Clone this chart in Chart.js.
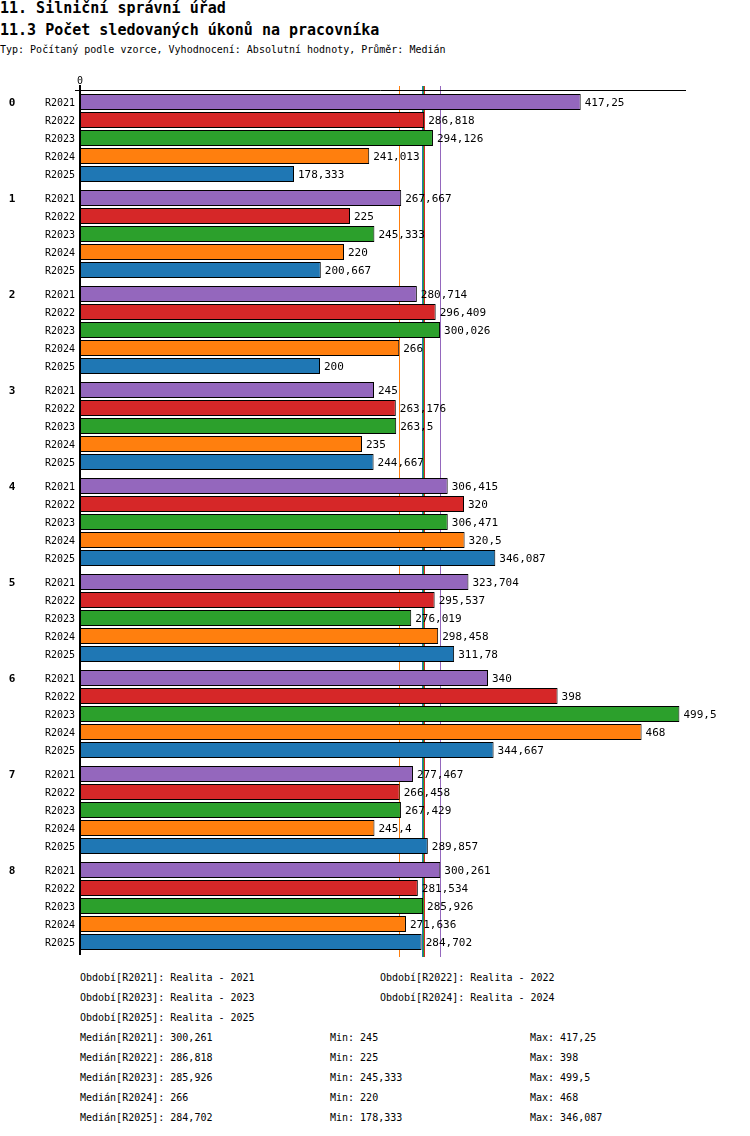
<!DOCTYPE html>
<html>
<head>
<meta charset="utf-8">
<script src="https://cdn.jsdelivr.net/npm/chart.js@4/dist/chart.umd.min.js"></script>
<style>
  html, body { margin: 0; padding: 0; background: #fff; }
  body { width: 750px; height: 1136px; position: relative; overflow: hidden; font-family: "DejaVu Sans Mono", monospace; color: #000; }
  .t { position: absolute; white-space: pre; line-height: 1; }
  .h { font-weight: bold; font-size: 15px; }
  .s { font-size: 10px; }
  .f { font-size: 10px; transform: translateY(-50%); }
  #c { position: absolute; left: 0; top: 0; }
</style>
</head>
<body>
<div class="t h" style="left:0;top:1px;">11. Silniční správní úřad</div>
<div class="t h" style="left:0;top:23px;">11.3 Počet sledovaných úkonů na pracovníka</div>
<div class="t s" style="left:0;top:45px;">Typ: Počítaný podle vzorce, Vyhodnocení: Absolutní hodnoty, Průměr: Medián</div>
<canvas id="c" width="750" height="960"></canvas>
<div id="foot"></div>
<script>
const categories = ['0', '1', '2', '3', '4', '5', '6', '7', '8'];
const seriesNames = ['R2021', 'R2022', 'R2023', 'R2024', 'R2025'];
const seriesLabels = ['Realita - 2021', 'Realita - 2022', 'Realita - 2023', 'Realita - 2024', 'Realita - 2025'];
const seriesColors = ['#9467bd', '#d62728', '#2ca02c', '#ff7f0e', '#1f77b4'];
const r2021 = [417.25, 267.667, 280.714, 245, 306.415, 323.704, 340, 277.467, 300.261];
const r2022 = [286.818, 225, 296.409, 263.176, 320, 295.537, 398, 266.458, 281.534];
const r2023 = [294.126, 245.333, 300.026, 263.5, 306.471, 276.019, 499.5, 267.429, 285.926];
const r2024 = [241.013, 220, 266, 235, 320.5, 298.458, 468, 245.4, 271.636];
const r2025 = [178.333, 200.667, 200, 244.667, 346.087, 311.78, 344.667, 289.857, 284.702];
const medians = [300.261, 286.818, 285.926, 266, 284.702];
const mins = [245, 225, 245.333, 220, 178.333];
const maxs = [417.25, 398, 499.5, 468, 346.087];
const xMin = 0;
const xMax = 505;

const seriesValues = [r2021, r2022, r2023, r2024, r2025];
const fmt = v => String(v).replace('.', ',');

// footer
const foot = document.getElementById('foot');
function addText(txt, x, y) {
  const d = document.createElement('div');
  d.className = 't f';
  d.style.left = x + 'px';
  d.style.top = y + 'px';
  d.textContent = txt;
  foot.appendChild(d);
}
seriesNames.forEach((n, i) => {
  const col = i % 2, row = Math.floor(i / 2);
  addText('Období[' + n + ']: ' + seriesLabels[i], col ? 380 : 80, 978 + row * 20);
});
seriesNames.forEach((n, i) => {
  const y = 1038 + i * 20;
  addText('Medián[' + n + ']: ' + fmt(medians[i]), 80, y);
  addText('Min: ' + fmt(mins[i]), 330, y);
  addText('Max: ' + fmt(maxs[i]), 530, y);
});

const overlay = {
  id: 'overlay',
  beforeDatasetsDraw(chart) {
    const ctx = chart.ctx, a = chart.chartArea, xs = chart.scales.x;
    ctx.save();
    ctx.lineWidth = 1;
    medians.forEach((m, i) => {
      const x = Math.round(xs.getPixelForValue(m)) + 0.5;
      ctx.strokeStyle = seriesColors[i];
      ctx.beginPath();
      ctx.moveTo(x, a.top - 4);
      ctx.lineTo(x, a.bottom + 3);
      ctx.stroke();
    });
    ctx.restore();
  },
  afterDatasetsDraw(chart) {
    const ctx = chart.ctx, a = chart.chartArea, xs = chart.scales.x;
    ctx.save();
    ctx.fillStyle = '#000';
    ctx.textBaseline = 'middle';
    // value labels and series labels
    chart.data.datasets.forEach((ds, di) => {
      const meta = chart.getDatasetMeta(di);
      meta.data.forEach((el, i) => {
        ctx.font = '11px "DejaVu Sans Mono", monospace';
        ctx.textAlign = 'left';
        ctx.fillText(fmt(ds.data[i]), el.x + 4, el.y + 1);
        ctx.font = '10px "DejaVu Sans Mono", monospace';
        ctx.textAlign = 'right';
        ctx.fillText(seriesNames[di], a.left - 5, el.y + 1);
        if (di === 0) {
          ctx.font = 'bold 11px "DejaVu Sans Mono", monospace';
          ctx.textAlign = 'center';
          ctx.fillText(categories[i], 12, el.y + 1);
        }
      });
    });
    // axes
    const x0 = xs.getPixelForValue(xMin);
    ctx.strokeStyle = '#000';
    ctx.lineWidth = 1;
    ctx.beginPath();
    ctx.moveTo(x0 - 5, a.top + 0.5);
    ctx.lineTo(xs.getPixelForValue(xMax), a.top + 0.5);
    ctx.stroke();
    ctx.lineWidth = 2;
    ctx.beginPath();
    ctx.moveTo(x0, a.top - 5);
    ctx.lineTo(x0, a.bottom + 1);
    ctx.stroke();
    ctx.font = '10px "DejaVu Sans Mono", monospace';
    ctx.textAlign = 'center';
    ctx.textBaseline = 'bottom';
    ctx.fillText(String(xMin), x0, a.top - 4);
    ctx.restore();
  }
};

new Chart(document.getElementById('c'), {
  type: 'bar',
  data: {
    labels: categories,
    datasets: seriesNames.map((n, i) => ({
      label: n,
      data: seriesValues[i],
      backgroundColor: seriesColors[i],
      borderColor: '#000',
      borderWidth: 1,
      borderSkipped: false,
      categoryPercentage: 0.9375,
      barPercentage: 16 / 18
    }))
  },
  options: {
    indexAxis: 'y',
    responsive: false,
    animation: false,
    layout: { padding: { left: 80, right: 64, top: 90, bottom: 6 } },
    scales: {
      x: { display: false, min: xMin, max: xMax },
      y: { display: false }
    },
    plugins: { legend: { display: false }, tooltip: { enabled: false } }
  },
  plugins: [overlay]
});
</script>
</body>
</html>
